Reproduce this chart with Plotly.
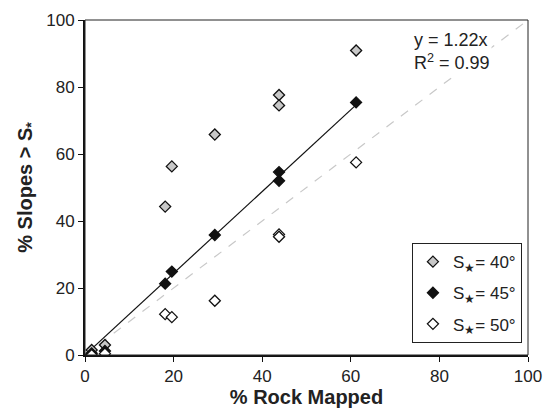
import plotly.graph_objects as go

rock_mapped = [1.5, 4.5, 18.1, 19.6, 29.3, 43.8, 43.8, 61.2]
slopes_40 = [1.5, 3.0, 44.3, 56.3, 65.8, 77.6, 74.5, 90.9]
slopes_45 = [0.5, 1.2, 21.3, 24.9, 35.8, 54.6, 52.0, 75.4]
slopes_50 = [0.0, 0.4, 12.2, 11.3, 16.2, 36.0, 35.3, 57.5]
fit_slope = 1.22
fit_x = [0, 61.5]
one_to_one = [0, 100]
series_names = ["S<sub>★</sub>= 40°", "S<sub>★</sub>= 45°", "S<sub>★</sub>= 50°"]
series_fill = ["#c8c8c8", "#111111", "#ffffff"]

fig = go.Figure()
fig.add_trace(go.Scatter(x=one_to_one, y=one_to_one, mode="lines",
                         line=dict(color="#c8c8c8", width=1.2, dash="dash"),
                         showlegend=False, hoverinfo="skip"))
fig.add_trace(go.Scatter(x=fit_x, y=[fit_slope * v for v in fit_x], mode="lines",
                         line=dict(color="#111111", width=1.2),
                         showlegend=False, hoverinfo="skip"))
for name, ys, fill in zip(series_names, [slopes_40, slopes_45, slopes_50], series_fill):
    fig.add_trace(go.Scatter(x=rock_mapped, y=ys, mode="markers", name=name,
                             legendgroup=name,
                             marker=dict(symbol="diamond", size=8.5, color=fill,
                                         line=dict(color="#111111", width=1.3))))

font_family = "Liberation Sans, Arial, sans-serif"
fig.update_layout(
    width=544, height=412,
    margin=dict(l=85, r=16, t=20, b=57),
    paper_bgcolor="white", plot_bgcolor="white",
    font=dict(family=font_family, size=17, color="#222222"),
    showlegend=True,
    legend=dict(x=0.738, y=0.334, xanchor="left", yanchor="top",
                bordercolor="#222222", borderwidth=1, bgcolor="white",
                font=dict(size=17), traceorder="grouped", tracegroupgap=6,
                itemwidth=30),
    xaxis=dict(range=[0, 100], tickvals=[0, 20, 40, 60, 80, 100], automargin=False,
               showline=True, linecolor="#111111", linewidth=2,
               ticks="outside", ticklen=5, tickcolor="#111111",
               showgrid=False, zeroline=False, tickfont=dict(size=17),
               title=dict(text="<b>% Rock Mapped</b>", font=dict(size=20), standoff=4)),
    yaxis=dict(range=[0, 100], tickvals=[0, 20, 40, 60, 80, 100], automargin=False,
               showline=True, linecolor="#111111", linewidth=2,
               ticks="outside", ticklen=5, tickcolor="#111111",
               showgrid=False, zeroline=False, tickfont=dict(size=17),
               title=dict(text="<b>% Slopes > S<sub>*</sub></b>", font=dict(size=20), standoff=8)),
    shapes=[dict(type="rect", xref="paper", yref="paper", x0=0, y0=0, x1=1, y1=1,
                 line=dict(color="#222222", width=1), layer="above")],
    annotations=[dict(x=0.738, y=0.975, xref="paper", yref="paper",
                      xanchor="left", yanchor="top", align="left", showarrow=False,
                      text="y = 1.22x<br>R<sup>2</sup> = 0.99",
                      font=dict(size=18), bgcolor="white")],
)

fig.write_html("out.html")
